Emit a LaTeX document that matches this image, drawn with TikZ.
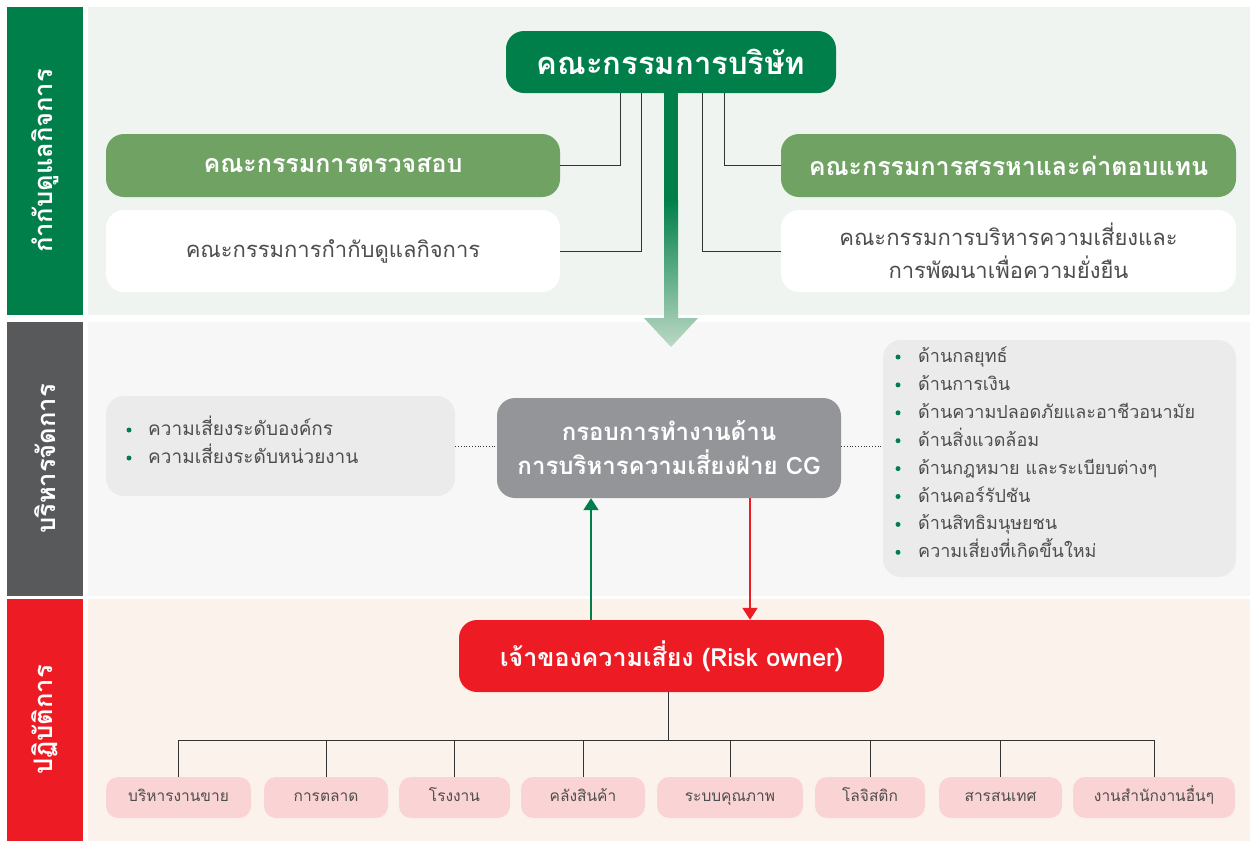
\documentclass[tikz,border=0pt]{standalone}
\usepackage{fontspec}
\setmainfont[Script=Thai]{Loma}
\usetikzlibrary{calc,arrows.meta}
\definecolor{dgreen}{HTML}{007F4B}
\definecolor{mgreen}{HTML}{6FA263}
\definecolor{lgreenarrow}{HTML}{BCD9C4}
\definecolor{bgone}{HTML}{EFF4F0}
\definecolor{bartwo}{HTML}{58595B}
\definecolor{bgtwo}{HTML}{F7F7F7}
\definecolor{lgray}{HTML}{EBEBEB}
\definecolor{mgray}{HTML}{939598}
\definecolor{rred}{HTML}{ED1C24}
\definecolor{bgthree}{HTML}{FCF2EC}
\definecolor{pink}{HTML}{FAD4D4}
\definecolor{txt}{HTML}{4D4D4D}
\definecolor{linec}{HTML}{333333}
\tikzset{
  bandbar/.style={inner sep=0pt, draw=none},
  bandlabel/.style={rotate=90, text=white, font=\fontsize{25.5}{28}\selectfont\bfseries, inner sep=0pt},
  topbox/.style={rounded corners=18pt, inner sep=0pt, align=center, draw=none},
  child/.style={rounded corners=12pt, fill=pink, inner sep=0pt, minimum height=41pt, text=txt, font=\fontsize{15.5}{18}\selectfont, text height=11pt, text depth=3pt},
  conn/.style={draw=linec, line width=1pt},
  bulletdot/.style={circle, fill=dgreen, inner sep=0pt, minimum size=5pt},
  bullettext/.style={anchor=base west, inner sep=0pt, text=txt},
}
\begin{document}
\begin{tikzpicture}[x=1pt,y=-1pt]
\useasboundingbox (0,0) rectangle (1252,841);
\fill[white] (0,0) rectangle (1252,841);
% bands
\node[bandbar, fill=dgreen, minimum width=76pt, minimum height=308pt] (bar1) at (45,161) {};
\node[bandbar, fill=bgone, minimum width=1162pt, minimum height=308pt] (bg1) at (669,161) {};
\node[bandbar, fill=bartwo, minimum width=76pt, minimum height=274pt] (bar2) at (45,459) {};
\node[bandbar, fill=bgtwo, minimum width=1162pt, minimum height=274pt] (bg2) at (669,459) {};
\node[bandbar, fill=rred, minimum width=76pt, minimum height=242pt] (bar3) at (45,720) {};
\node[bandbar, fill=bgthree, minimum width=1162pt, minimum height=242pt] (bg3) at (669,720) {};
\node[bandlabel] (lab1) at (bar1.center) {กำกับดูแลกิจการ};
\node[bandlabel] (lab2) at (bar2.center) {บริหารจัดการ};
\node[bandlabel] (lab3) at (bar3.center) {ปฏิบัติการ};

% governance
\node[topbox, fill=dgreen, minimum width=330pt, minimum height=62pt, text=white, font=\fontsize{31}{33}\selectfont\bfseries] (title) at (671,62) {คณะกรรมการบริษัท};
\node[topbox, fill=mgreen, minimum width=454pt, minimum height=63pt, text=white, font=\fontsize{25}{28}\selectfont\bfseries] (audit) at (333,165.5) {คณะกรรมการตรวจสอบ};
\node[topbox, fill=white, minimum width=454pt, minimum height=82pt, text=txt, font=\fontsize{22}{25}\selectfont] (gov) at (333,251) {คณะกรรมการกำกับดูแลกิจการ};
\node[topbox, fill=mgreen, minimum width=455pt, minimum height=63pt, text=white, font=\fontsize{25}{28}\selectfont\bfseries] (nom) at (1008.5,165.5) {คณะกรรมการสรรหาและค่าตอบแทน};
\node[topbox, fill=white, minimum width=455pt, minimum height=82pt, text=txt, font=\fontsize{22}{33}\selectfont] (risk) at (1008.5,251) {คณะกรรมการบริหารความเสี่ยงและ\\การพัฒนาเพื่อความยั่งยืน};

\draw[conn] ([xshift=-51pt]title.south) |- (audit.east);
\draw[conn] ([xshift=-30pt]title.south) |- (gov.east);
\draw[conn] ([xshift=31pt]title.south) |- (risk.west);
\draw[conn] ([xshift=53pt]title.south) |- (nom.west);

% big gradient arrow
\coordinate (arrowtip) at (671,347);
\fill[dgreen] ($(title.south)+(-7,0)$) rectangle (678,201);
\shade[top color=dgreen, bottom color=lgreenarrow]
  (664,200) -- (678,200) -- (678,318) -- (698,318) -- (arrowtip) -- (644,318) -- (664,318) -- cycle;

% management
\node[topbox, fill=lgray, minimum width=349pt, minimum height=100pt] (lg) at (280.5,446) {};
\node[bulletdot] (lb1) at (129,430) {};
\node[bullettext, font=\fontsize{19}{22}\selectfont] (lt1) at (148,435.5) {ความเสี่ยงระดับองค์กร};
\node[bulletdot] (lb2) at (129,458) {};
\node[bullettext, font=\fontsize{19}{22}\selectfont] (lt2) at (148,463.5) {ความเสี่ยงระดับหน่วยงาน};

\node[topbox, fill=mgray, minimum width=344pt, minimum height=100pt, text=white, font=\fontsize{24}{34}\selectfont\bfseries] (cg) at (669,448) {กรอบการทำงานด้าน\\การบริหารความเสี่ยงฝ่าย CG};

\node[topbox, fill=lgray, minimum width=353pt, minimum height=237pt] (rg) at (1059.5,458.5) {};
\foreach \t [count=\i] in {ด้านกลยุทธ์, ด้านการเงิน, ด้านความปลอดภัยและอาชีวอนามัย, ด้านสิ่งแวดล้อม, ด้านกฎหมาย และระเบียบต่างๆ, ด้านคอร์รัปชัน, ด้านสิทธิมนุษยชน, ความเสี่ยงที่เกิดขึ้นใหม่}{
  \node[bulletdot] (rb\i) at (898,{357+27.9*(\i-1)}) {};
  \node[bullettext, font=\fontsize{18}{21}\selectfont] (rt\i) at (918,{362.5+27.9*(\i-1)}) {\t};
}
\draw[dotted, line width=0.8pt, draw=linec] (lg.east) -- (cg.west |- lg.east);
\draw[dotted, line width=0.8pt, draw=linec] (cg.east |- lg.east) -- (rg.west |- lg.east);

% operations
\node[topbox, fill=rred, minimum width=425pt, minimum height=72pt, text=white, font=\fontsize{25}{28}\selectfont\bfseries] (owner) at (671.5,656) {เจ้าของความเสี่ยง (Risk owner)};

\coordinate (ua) at (591,0);
\coordinate (da) at (750,0);
\draw[draw=dgreen, line width=2pt, -{Triangle[width=15pt,length=12pt]}] (owner.north -| ua) -- (cg.south -| ua);
\draw[draw=rred, line width=2pt, -{Triangle[width=15pt,length=12pt]}] (cg.south -| da) -- (owner.north -| da);

\node[child, minimum width=145pt] (c1) at (178.5,797.5) {บริหารงานขาย};
\node[child, minimum width=124pt] (c2) at (326,797.5) {การตลาด};
\node[child, minimum width=111pt] (c3) at (454.5,797.5) {โรงงาน};
\node[child, minimum width=124pt] (c4) at (583,797.5) {คลังสินค้า};
\node[child, minimum width=146pt] (c5) at (730,797.5) {ระบบคุณภาพ};
\node[child, minimum width=110pt] (c6) at (870,797.5) {โลจิสติก};
\node[child, minimum width=123pt] (c7) at (1000.5,797.5) {สารสนเทศ};
\node[child, minimum width=162pt] (c8) at (1154,797.5) {งานสำนักงานอื่นๆ};

\coordinate (bus) at (0,740);
\draw[conn] ([xshift=-3.5pt]owner.south) -- ([xshift=-3.5pt]owner.south |- bus);
\draw[conn] (c1.north |- bus) -- (c8.north |- bus);
\foreach \c in {c1,c2,c3,c4,c5,c6,c7,c8}{
  \draw[conn] (\c.north |- bus) -- (\c.north);
}
\end{tikzpicture}
\end{document}
